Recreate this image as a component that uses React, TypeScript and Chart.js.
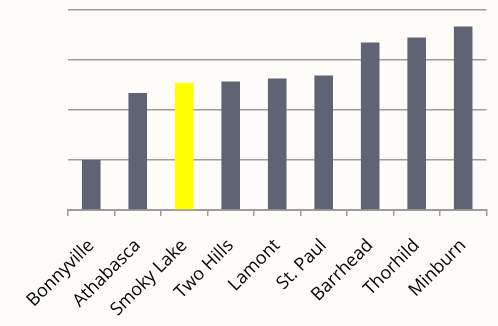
import React, { useEffect, useRef } from "react";
import { Chart, registerables } from "chart.js";

Chart.register(...registerables);

const towns = ["Bonnyville", "Athabasca", "Smoky Lake", "Two Hills", "Lamont", "St. Paul", "Barrhead", "Thorhild", "Minburn"];
const values = [1.0, 2.34, 2.54, 2.57, 2.63, 2.69, 3.35, 3.45, 3.67];
const highlightTown = "Smoky Lake";

const BG = "#FDFCF8";
const BAR = "#5F6373";
const HIGHLIGHT = "#FFFF00";
const GRID = "#9C9C9C";

export default function App() {
  const ref = useRef<HTMLCanvasElement | null>(null);

  useEffect(() => {
    document.body.style.margin = "0";
    document.body.style.background = BG;
    const canvas = ref.current;
    if (!canvas) return;
    const chart = new Chart(canvas, {
      type: "bar",
      data: {
        labels: towns,
        datasets: [
          {
            data: values,
            backgroundColor: towns.map((t) => (t === highlightTown ? HIGHLIGHT : BAR)),
            barPercentage: 0.4,
            categoryPercentage: 1,
          },
        ],
      },
      options: {
        animation: false,
        responsive: false,
        devicePixelRatio: 1,
        layout: { padding: { top: 10, right: 10, left: 0, bottom: 0 } },
        plugins: { legend: { display: false }, tooltip: { enabled: false } },
        scales: {
          x: {
            offset: true,
            grid: {
              display: true,
              drawOnChartArea: false,
              drawTicks: true,
              tickLength: 6,
              color: GRID,
              lineWidth: 1.5,
              offset: true,
            },
            border: { display: true, color: GRID, width: 2 },
            ticks: {
              color: "#000",
              font: { family: "Open Sans", size: 18 },
              minRotation: 45,
              maxRotation: 45,
              autoSkip: false,
              padding: 19,
            },
            afterFit: (scale: any) => {
              scale.height = 116;
            },
          },
          y: {
            min: 0,
            max: 4,
            ticks: { display: false, stepSize: 1 },
            grid: { color: GRID, lineWidth: 1.5, drawTicks: false },
            border: { display: false },
            afterFit: (scale: any) => {
              scale.width = 68;
            },
          },
        },
      },
    });
    return () => chart.destroy();
  }, []);

  return (
    <div style={{ position: "fixed", left: 0, top: 0, width: 498, height: 326, background: BG }}>
      <canvas ref={ref} width={498} height={326} style={{ display: "block" }} />
    </div>
  );
}
